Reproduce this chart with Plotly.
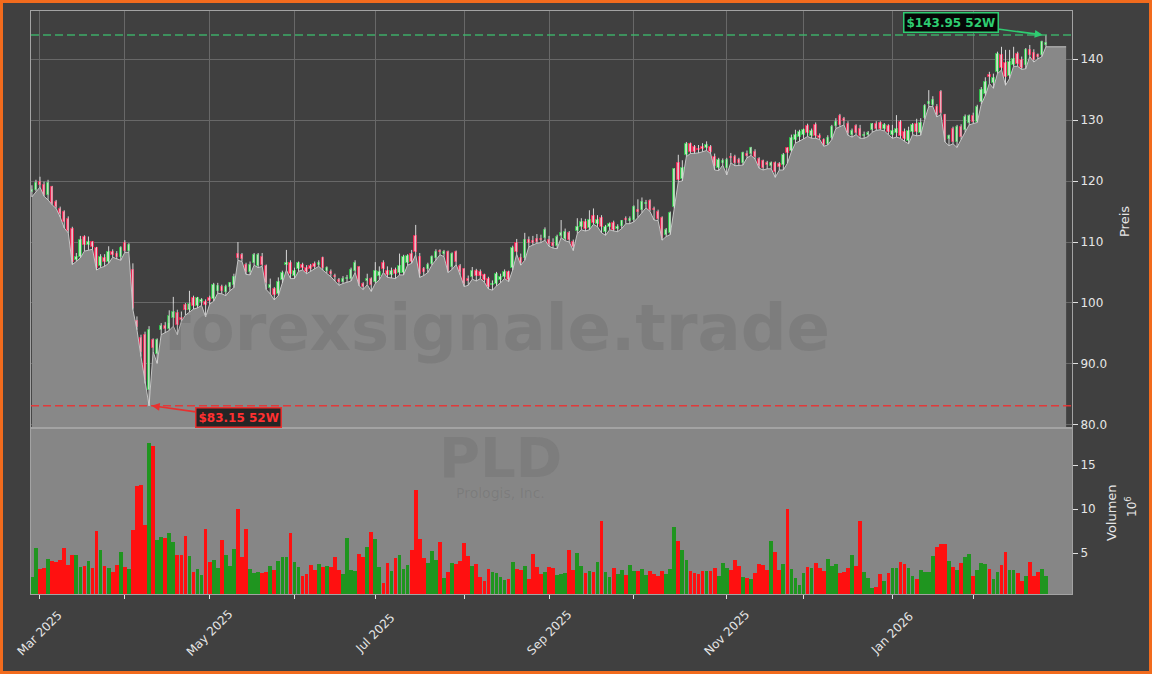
import pandas as pd
import plotly.graph_objects as go

# ---------------- data ----------------
holidays = ['2025-04-18', '2025-05-26', '2025-06-19', '2025-07-04', '2025-09-01',
            '2025-11-27', '2025-12-25', '2026-01-01', '2026-01-19', '2026-02-16']
dates = [d for d in pd.bdate_range('2025-02-27', '2026-02-27')
         if d.strftime('%Y-%m-%d') not in holidays]

opens = [
    118.2, 118.6, 119.9, 119.3, 117.7, 119.0, 116.5, 115.4, 114.9, 113.7,
    112.2, 107.0, 107.6, 110.8, 109.5, 110.0, 109.0, 106.0, 107.4, 106.8,
    108.4, 108.1, 107.5, 109.8, 108.6, 105.4, 97.0, 94.2, 94.8, 85.7,
    94.0, 91.7, 95.5, 96.3, 95.8, 97.6, 98.4, 97.6, 99.7, 98.9,
    100.8, 99.5, 100.2, 100.2, 100.9, 100.6, 102.0, 102.6, 101.8, 102.6,
    103.0, 108.1, 107.8, 106.3, 105.0, 106.5, 106.0, 107.6, 106.0, 102.5,
    102.3, 101.5, 103.8, 106.2, 106.5, 104.5, 105.5, 106.2, 105.8, 106.0,
    106.4, 106.3, 107.3, 105.2, 105.0, 104.4, 103.8, 103.5, 104.0, 103.9,
    105.3, 105.85, 103.1, 103.6, 103.9, 103.5, 104.5, 106.6, 105.2, 104.6,
    105.4, 104.9, 104.9, 106.6, 108.0, 111.0, 107.6, 105.5, 105.5, 106.4,
    107.3, 108.5, 108.1, 108.3, 105.9, 108.3, 106.0, 105.5, 104.0, 104.2,
    105.3, 105.0, 104.6, 104.0, 102.9, 103.1, 103.8, 104.3, 105.0, 105.7,
    109.8, 107.3, 107.3, 110.3, 110.1, 110.5, 110.5, 110.6, 110.4, 109.8,
    109.3, 111.0, 110.5, 111.4, 110.0, 111.8, 112.4, 113.2, 112.3, 114.2,
    113.0, 113.9, 111.6, 112.5, 113.1, 112.2, 112.6, 113.8, 113.5, 113.6,
    115.2, 115.2, 116.2, 116.7, 115.4, 115.0, 114.0, 111.2, 111.4, 115.8,
    123.0, 120.4, 124.3, 126.0, 125.6, 125.3, 125.6, 125.4, 125.6, 123.9,
    122.1, 123.0, 122.1, 124.0, 123.9, 123.4, 122.9, 124.5, 124.5, 124.8,
    123.6, 123.2, 122.9, 122.4, 122.9, 122.8, 122.6, 125.4, 125.0, 126.8,
    127.2, 127.5, 129.0, 127.4, 129.2, 127.4, 126.7, 126.1, 127.0, 129.0,
    130.6, 130.1, 129.3, 127.5, 129.0, 128.5, 127.4, 127.6, 128.4, 129.4,
    129.5, 128.5, 129.0, 127.6, 127.8, 129.6, 128.0, 126.6, 128.0, 129.3,
    127.9, 130.4, 132.6, 132.5, 132.1, 134.6, 130.8, 126.9, 128.6, 126.4,
    128.9, 128.4, 129.5, 130.6, 129.7, 133.0, 134.3, 137.4, 136.0, 137.9,
    140.6, 139.4, 137.2, 139.0, 140.8, 139.8, 139.0, 141.5, 141.0, 140.6,
    140.7, 142.3,
]
highs = [
    119.3, 120.2, 120.7, 119.9, 120.2, 119.2, 116.9, 115.8, 115.2, 114.2,
    112.5, 108.2, 111.0, 111.1, 110.9, 110.1, 109.2, 108.0, 108.0, 109.3,
    108.8, 108.5, 109.3, 110.3, 109.8, 106.5, 97.8, 94.8, 95.3, 96.2,
    94.2, 94.2, 96.7, 96.9, 98.8, 101.0, 98.9, 98.6, 100.0, 102.0,
    101.2, 101.0, 100.8, 100.6, 101.2, 103.3, 103.3, 103.0, 103.0, 103.4,
    104.8, 110.0, 108.2, 106.6, 106.8, 108.2, 108.2, 108.2, 106.3, 104.0,
    102.6, 104.2, 105.3, 108.7, 107.0, 105.8, 106.8, 106.6, 106.2, 106.4,
    106.8, 107.0, 107.6, 106.0, 105.5, 104.8, 104.1, 104.4, 104.6, 105.8,
    107.0, 106.0, 103.4, 104.8, 104.2, 106.7, 106.0, 107.0, 106.0, 105.8,
    105.8, 108.1, 107.9, 108.0, 108.7, 112.8, 108.2, 105.9, 106.6, 107.8,
    108.8, 108.8, 108.7, 108.6, 108.3, 108.6, 106.4, 105.7, 104.5, 105.9,
    105.6, 105.5, 104.8, 104.3, 103.7, 105.1, 104.8, 105.5, 105.3, 109.4,
    110.5, 108.1, 111.5, 110.9, 111.0, 111.3, 111.2, 112.4, 111.0, 110.6,
    111.2, 113.6, 112.2, 111.8, 110.4, 113.9, 113.9, 113.8, 115.2, 115.5,
    114.4, 114.4, 112.8, 113.2, 113.5, 112.9, 113.6, 114.2, 114.2, 116.0,
    117.0, 117.3, 116.9, 117.0, 115.8, 115.3, 114.2, 112.3, 115.0, 122.1,
    124.3, 123.4, 126.4, 126.3, 125.9, 125.9, 126.2, 126.5, 125.9, 124.5,
    123.8, 123.7, 123.8, 124.6, 124.3, 123.8, 124.8, 125.0, 125.6, 125.2,
    123.9, 123.5, 123.3, 123.2, 123.2, 123.1, 124.6, 125.5, 127.6, 128.4,
    128.4, 128.6, 129.4, 128.6, 129.6, 127.8, 127.0, 127.5, 129.2, 130.3,
    131.0, 130.5, 129.8, 128.6, 129.3, 129.2, 128.1, 128.2, 129.5, 129.8,
    129.8, 129.5, 129.3, 129.2, 130.8, 130.0, 128.6, 128.9, 129.5, 130.2,
    130.3, 132.6, 134.9, 133.9, 132.6, 134.9, 131.0, 127.6, 128.9, 129.2,
    129.3, 130.9, 130.9, 131.2, 132.5, 135.4, 137.0, 137.9, 137.6, 141.2,
    142.0, 141.5, 141.5, 142.0, 141.2, 140.4, 141.8, 142.3, 141.6, 140.9,
    143.0, 143.95,
]
lows = [
    117.4, 118.3, 119.0, 117.5, 116.9, 116.1, 115.5, 114.1, 112.3, 111.5,
    106.3, 106.8, 107.4, 108.5, 108.7, 108.8, 105.4, 105.8, 106.0, 106.5,
    107.5, 107.2, 107.0, 108.3, 108.3, 98.9, 95.6, 91.2, 86.8, 83.15,
    92.0, 90.1, 94.8, 95.1, 95.5, 96.2, 94.8, 97.0, 98.0, 98.5,
    99.0, 99.2, 99.6, 97.7, 99.8, 100.3, 101.6, 101.5, 101.2, 102.0,
    102.5, 107.0, 106.8, 104.7, 104.6, 106.2, 105.8, 106.0, 102.2, 101.5,
    100.5, 101.2, 103.3, 105.4, 104.0, 104.0, 105.2, 105.4, 104.8, 105.2,
    105.6, 106.0, 105.4, 104.9, 104.3, 103.6, 102.9, 103.2, 103.4, 103.6,
    105.0, 102.8, 102.2, 103.0, 101.9, 103.2, 103.8, 105.0, 104.2, 104.1,
    104.0, 104.6, 104.6, 106.2, 106.5, 107.9, 104.2, 104.5, 105.0, 106.2,
    107.0, 107.9, 107.6, 105.0, 105.5, 106.3, 104.6, 102.7, 102.9, 103.9,
    103.6, 104.0, 103.4, 102.3, 102.1, 102.8, 103.3, 104.0, 103.5, 105.4,
    108.0, 106.2, 107.0, 109.2, 109.5, 109.8, 109.9, 110.3, 109.3, 109.0,
    108.9, 110.7, 110.2, 110.0, 108.6, 111.4, 112.0, 111.8, 112.0, 112.9,
    112.5, 111.5, 111.1, 112.0, 111.8, 111.7, 112.2, 113.0, 113.0, 113.3,
    114.0, 114.8, 115.6, 115.0, 113.6, 113.5, 110.3, 110.9, 111.2, 115.5,
    119.9, 120.0, 124.0, 124.5, 124.5, 124.6, 124.8, 125.0, 124.5, 121.8,
    121.7, 122.6, 121.0, 123.0, 122.5, 122.6, 122.6, 123.8, 124.2, 123.6,
    122.1, 121.8, 122.0, 122.0, 120.6, 121.8, 121.8, 122.9, 124.8, 126.2,
    126.5, 126.9, 127.3, 127.0, 127.0, 126.8, 125.7, 125.9, 126.8, 128.6,
    128.9, 129.2, 127.5, 127.2, 127.6, 127.0, 127.0, 127.3, 128.0, 128.3,
    128.4, 128.2, 127.6, 127.0, 127.2, 127.0, 126.5, 126.1, 127.6, 127.4,
    127.5, 130.1, 132.2, 132.2, 130.5, 130.9, 126.4, 125.8, 126.1, 125.5,
    126.8, 128.0, 129.2, 129.4, 129.6, 132.6, 134.0, 136.0, 135.2, 137.6,
    138.2, 135.7, 136.8, 138.8, 138.8, 138.3, 138.4, 140.4, 139.5, 140.0,
    140.4, 142.0,
]
closes = [
    118.6, 119.7, 119.3, 117.7, 119.7, 116.3, 115.8, 114.6, 113.3, 111.8,
    106.8, 107.5, 110.4, 109.5, 110.0, 109.2, 105.7, 107.5, 106.7, 108.4,
    107.9, 107.5, 109.0, 108.6, 109.5, 99.1, 96.0, 92.0, 87.4, 95.6,
    92.6, 93.9, 96.2, 95.8, 97.8, 98.5, 96.4, 97.2, 98.9, 99.8,
    99.5, 100.8, 100.5, 99.6, 100.4, 102.9, 102.8, 102.0, 102.7, 103.2,
    104.3, 107.3, 107.2, 105.0, 106.3, 107.9, 107.8, 106.2, 103.2, 103.0,
    101.3, 103.5, 104.9, 106.6, 104.8, 105.3, 106.5, 105.7, 105.1, 105.5,
    105.9, 106.6, 105.7, 105.7, 104.7, 104.2, 103.4, 103.9, 104.1, 105.4,
    106.6, 103.1, 102.7, 104.0, 102.9, 105.2, 105.0, 105.5, 104.6, 105.2,
    104.7, 106.0, 107.6, 107.7, 106.8, 108.4, 104.8, 105.0, 106.2, 107.5,
    108.4, 108.3, 108.4, 105.3, 108.0, 106.8, 105.0, 103.1, 103.6, 105.3,
    104.5, 104.4, 103.8, 102.7, 103.1, 104.8, 104.3, 105.1, 103.8, 109.0,
    108.4, 106.6, 110.4, 109.8, 109.8, 110.0, 110.3, 112.0, 109.7, 109.3,
    110.9, 111.4, 111.7, 110.3, 109.1, 112.5, 113.2, 112.2, 113.6, 113.1,
    113.6, 112.4, 112.4, 113.0, 112.0, 112.5, 113.4, 113.6, 113.8, 115.7,
    115.0, 116.6, 116.4, 115.2, 115.2, 113.7, 110.6, 112.0, 114.7, 121.9,
    120.2, 122.2, 126.1, 124.8, 124.8, 125.1, 125.3, 125.9, 124.8, 122.5,
    123.4, 123.3, 123.4, 123.8, 122.9, 123.0, 124.6, 124.1, 125.4, 123.9,
    122.4, 122.1, 122.6, 122.9, 121.5, 122.3, 124.2, 124.6, 127.0, 127.6,
    128.0, 128.3, 127.8, 128.2, 127.4, 127.0, 125.9, 127.1, 128.9, 129.7,
    129.2, 129.8, 127.8, 128.2, 127.8, 127.3, 127.6, 127.9, 129.4, 128.6,
    128.6, 129.2, 128.0, 128.2, 128.6, 127.4, 126.9, 128.2, 129.2, 128.0,
    129.5, 132.3, 133.0, 133.3, 130.8, 131.2, 126.7, 127.3, 126.4, 128.9,
    127.2, 130.5, 130.6, 129.7, 132.1, 135.0, 136.3, 137.1, 136.9, 140.9,
    138.6, 137.0, 139.5, 140.0, 139.2, 138.6, 141.5, 140.7, 139.8, 140.3,
    142.8, 142.6,
]
volumes = [  # millions of shares
    2.3, 5.56, 3.18, 3.29, 4.3, 4.09, 4.0, 4.2, 5.56, 3.67,
    4.8, 4.77, 3.4, 3.56, 4.09, 3.33, 7.5, 5.34, 3.52, 3.29,
    2.84, 3.63, 5.11, 3.4, 3.18, 7.6, 12.6, 12.7, 8.18, 17.46,
    17.16, 6.47, 6.85, 6.74, 7.23, 6.28, 4.8, 4.8, 6.93, 4.66,
    2.84, 3.18, 2.5, 7.7, 3.97, 4.2, 3.33, 6.47, 4.77, 3.52,
    5.45, 10.0, 4.58, 7.76, 3.18, 2.76, 2.84, 2.72, 2.84, 3.52,
    3.06, 4.09, 4.54, 4.54, 7.27, 3.97, 3.4, 2.38, 2.61, 3.63,
    3.06, 3.75, 3.4, 3.52, 3.4, 4.54, 3.06, 2.61, 6.7, 3.06,
    2.95, 4.88, 4.54, 5.68, 7.38, 6.59, 3.4, 1.59, 3.86, 2.95,
    4.43, 4.77, 3.18, 3.63, 5.34, 12.2, 6.59, 4.43, 3.86, 5.2,
    4.2, 6.25, 2.16, 2.84, 3.86, 3.75, 4.09, 6.13, 4.66, 3.52,
    3.75, 2.27, 1.81, 3.18, 2.84, 2.72, 2.31, 1.93, 2.04, 3.97,
    3.18, 3.06, 3.52, 2.04, 4.88, 3.4, 2.61, 2.84, 3.4, 3.29,
    2.5, 2.61, 2.72, 5.34, 3.06, 5.0, 3.52, 2.72, 2.95, 2.84,
    3.97, 8.63, 2.84, 2.27, 3.29, 2.61, 3.06, 2.5, 3.63, 2.95,
    2.95, 3.18, 2.5, 2.95, 2.61, 2.38, 2.95, 2.61, 3.18, 7.95,
    6.36, 5.34, 4.2, 2.95, 2.72, 2.61, 2.95, 2.95, 2.95, 3.29,
    2.38, 3.86, 3.29, 3.06, 4.2, 3.52, 2.27, 2.16, 2.04, 2.72,
    3.75, 3.63, 3.06, 6.36, 5.11, 3.06, 3.75, 10.0, 3.18, 2.16,
    1.4, 2.72, 3.4, 3.29, 3.86, 3.29, 2.95, 4.3, 3.52, 3.75,
    2.72, 2.84, 3.29, 4.77, 3.52, 8.63, 2.84, 2.16, 1.02, 1.13,
    2.61, 1.81, 2.72, 3.29, 3.29, 3.97, 3.75, 3.29, 2.38, 2.04,
    3.06, 2.84, 2.84, 4.66, 5.68, 6.02, 6.02, 4.09, 3.4, 3.06,
    3.86, 4.54, 4.88, 2.38, 3.06, 3.86, 3.75, 3.18, 2.04, 2.84,
    3.63, 5.11, 3.06, 3.06, 2.72, 1.81, 2.38, 3.97, 2.38, 2.84,
    3.18, 2.38,
]
ticker = 'PLD'
company = 'Prologis, Inc.'
watermark = 'forexsignale.trade'
price_ticks = [80, 90, 100, 110, 120, 130, 140]
price_tick_text = ['80.0', '90.0', '100', '110', '120', '130', '140']
vol_ticks = [5, 10, 15]

n = len(dates)
assert len(opens) == len(highs) == len(lows) == len(closes) == len(volumes) == n
idx = list(range(n))

# ---------------- geometry (pixels of the 1152x674 page) ----------------
W, H = 1152, 674
PL, PR, PT, PB = 31, 1072, 11, 594        # plot block
PRICE_BOTTOM, VOL_TOP = 427, 429
X_RANGE = [-0.223, 257.45]
AREA_END = 256


def fx(p):
    return (p - PL) / (PR - PL)


def fy(p):
    return (PB - p) / (PB - PT)


BG = '#404040'
TXT = '#e6e6e6'
FONT = 'DejaVu Sans'

# month ticks (first trading day of each month)
month_idx, month_lbl = [], []
for i, d in enumerate(dates):
    if i == 0 or d.month != dates[i - 1].month:
        if d.day <= 7:
            month_idx.append(i)
            month_lbl.append(d.strftime('%b %Y') if d.month % 2 == 1 else '')

fig = go.Figure()

# area under the lows
fig.add_trace(go.Scatter(
    x=idx + [AREA_END], y=lows + [lows[-1]], mode='lines', fill='tozeroy',
    fillcolor='#888888', line=dict(color='#c4c4c4', width=1),
    hoverinfo='skip', showlegend=False, xaxis='x', yaxis='y'))

# wicks
wx, wy = [], []
for i in idx:
    wx += [i, i, None]
    wy += [lows[i], highs[i], None]
fig.add_trace(go.Scatter(x=wx, y=wy, mode='lines',
                         line=dict(color='#d6d6d6', width=1),
                         hoverinfo='skip', showlegend=False, xaxis='x', yaxis='y'))

# bodies
up = [i for i in idx if closes[i] >= opens[i]]
dn = [i for i in idx if closes[i] < opens[i]]
for sel, fill, edge in [(up, '#a8eaa8', '#2fbf4a'), (dn, '#f7809c', '#e8234f')]:
    fig.add_trace(go.Bar(
        x=sel,
        y=[max(abs(closes[i] - opens[i]), 0.12) for i in sel],
        base=[min(opens[i], closes[i]) for i in sel],
        width=0.6, marker=dict(color=fill, line=dict(color=edge, width=1)),
        hoverinfo='skip', showlegend=False, xaxis='x', yaxis='y'))

# volume
vcol = ['#1f951f' if closes[i] >= opens[i] else '#ff1010' for i in idx]
fig.add_trace(go.Bar(x=idx, y=volumes, width=0.92,
                     marker=dict(color=vcol, line=dict(width=0)),
                     hoverinfo='skip', showlegend=False, xaxis='x2', yaxis='y2'))

hi = max(highs)
lo = min(lows)
i_hi = highs.index(hi)
i_lo = lows.index(lo)

shapes = [
    # volume panel face
    dict(type='rect', xref='paper', yref='paper', x0=0, x1=1, y0=0, y1=fy(VOL_TOP),
         fillcolor='#868686', line=dict(width=0), layer='below'),
    # 52w lines
    dict(type='line', xref='paper', yref='y', x0=0, x1=1, y0=hi, y1=hi,
         line=dict(color='rgba(60,190,110,0.85)', width=1.5, dash='8px,4px')),
    dict(type='line', xref='paper', yref='y', x0=0, x1=1, y0=lo, y1=lo,
         line=dict(color='rgba(235,50,50,0.9)', width=1.5, dash='8px,4px')),
    # orange frame
    dict(type='rect', xref='paper', yref='paper',
         x0=fx(1.5), x1=fx(W - 1.5), y0=fy(H - 1.5), y1=fy(1.5),
         line=dict(color='#f26b1d', width=3), fillcolor='rgba(0,0,0,0)'),
]

C = dict(xanchor='center', yanchor='middle', showarrow=False)
ann = []
# watermarks
ann.append(dict(text='<b>%s</b>' % watermark, xref='paper', yref='paper',
                x=fx(496), y=fy(328),
                font=dict(size=64, color='rgba(50,50,50,0.12)', family=FONT), **C))
ann.append(dict(text='<b>%s</b>' % ticker, xref='paper', yref='paper',
                x=fx(500), y=fy(458),
                font=dict(size=56, color='rgba(50,50,50,0.10)', family=FONT), **C))
ann.append(dict(text=company, xref='paper', yref='paper',
                x=fx(500), y=fy(493),
                font=dict(size=14, color='rgba(50,50,50,0.13)', family=FONT), **C))
# 52w labels
ann.append(dict(text='<b>$%.2f 52W</b>' % hi, x=i_hi - 0.8, y=hi, xref='x', yref='y',
                ax=-92, ay=-12, showarrow=True, arrowhead=2, arrowsize=1,
                arrowwidth=1.6, arrowcolor='#2ecc71',
                bgcolor='rgba(0,0,0,0.9)', bordercolor='#2ecc71', borderwidth=1.5,
                borderpad=2, font=dict(size=12, color='#2ecc71', family=FONT)))
ann.append(dict(text='<b>$%.2f 52W</b>' % lo, x=i_lo + 0.65, y=lo, xref='x', yref='y',
                ax=87, ay=12, showarrow=True, arrowhead=2, arrowsize=1,
                arrowwidth=1.6, arrowcolor='#e8302f',
                bgcolor='rgba(28,28,28,0.92)', bordercolor='#e8302f', borderwidth=1.5,
                borderpad=2, font=dict(size=12, color='#ff3030', family=FONT)))
# x tick labels (rotated, centred on tick)
for i, t in zip(month_idx, month_lbl):
    if t:
        ann.append(dict(text=t, x=i, y=fy(633), xref='x2', yref='paper',
                        textangle=-45,
                        font=dict(size=12, color=TXT, family=FONT), **C))
# axis titles
ann.append(dict(text='Preis', xref='paper', yref='paper', x=fx(1124), y=fy(222),
                textangle=-90, font=dict(size=13, color=TXT, family=FONT), **C))
ann.append(dict(text='Volumen', xref='paper', yref='paper', x=fx(1111), y=fy(513),
                textangle=-90, font=dict(size=13, color=TXT, family=FONT), **C))
ann.append(dict(text='10<sup>6</sup>', xref='paper', yref='paper', x=fx(1131), y=fy(507),
                textangle=-90, font=dict(size=12, color=TXT, family=FONT), **C))

axis_common = dict(showline=True, mirror=True, linecolor='#a3a3a3', linewidth=1,
                   zeroline=False)

fig.update_layout(
    width=W, height=H,
    margin=dict(l=PL, r=W - PR, t=PT, b=H - PB, pad=0),
    paper_bgcolor=BG, plot_bgcolor=BG,
    font=dict(family=FONT, color=TXT, size=12),
    barmode='overlay', bargap=0, showlegend=False,
    shapes=shapes, annotations=ann,
    xaxis=dict(domain=[0, 1], anchor='y', range=X_RANGE, tickvals=month_idx,
               showticklabels=False, ticks='', showgrid=True,
               gridcolor='#686868', gridwidth=0.8, **axis_common),
    xaxis2=dict(domain=[0, 1], anchor='y2', range=X_RANGE, tickvals=month_idx,
                showticklabels=False, ticks='outside', ticklen=4,
                tickcolor='#e0e0e0', showgrid=False, matches='x', **axis_common),
    yaxis=dict(domain=[fy(PRICE_BOTTOM), 1], anchor='x', side='right',
               range=[79.67, 147.87], tickvals=price_ticks, ticktext=price_tick_text,
               ticks='outside', ticklen=5, tickcolor='#e0e0e0',
               tickfont=dict(size=12, color=TXT), showgrid=True,
               gridcolor='#686868', gridwidth=0.8, **axis_common),
    yaxis2=dict(domain=[0, fy(VOL_TOP)], anchor='x2', side='right',
                range=[0.34, 19.1], tickvals=vol_ticks,
                ticks='outside', ticklen=5, tickcolor='#e0e0e0',
                tickfont=dict(size=12, color=TXT), showgrid=False, **axis_common),
)

fig.write_html('out.html', config={'displayModeBar': False},
               post_script="document.body.style.margin='0';"
                           "document.body.style.overflow='hidden';")
